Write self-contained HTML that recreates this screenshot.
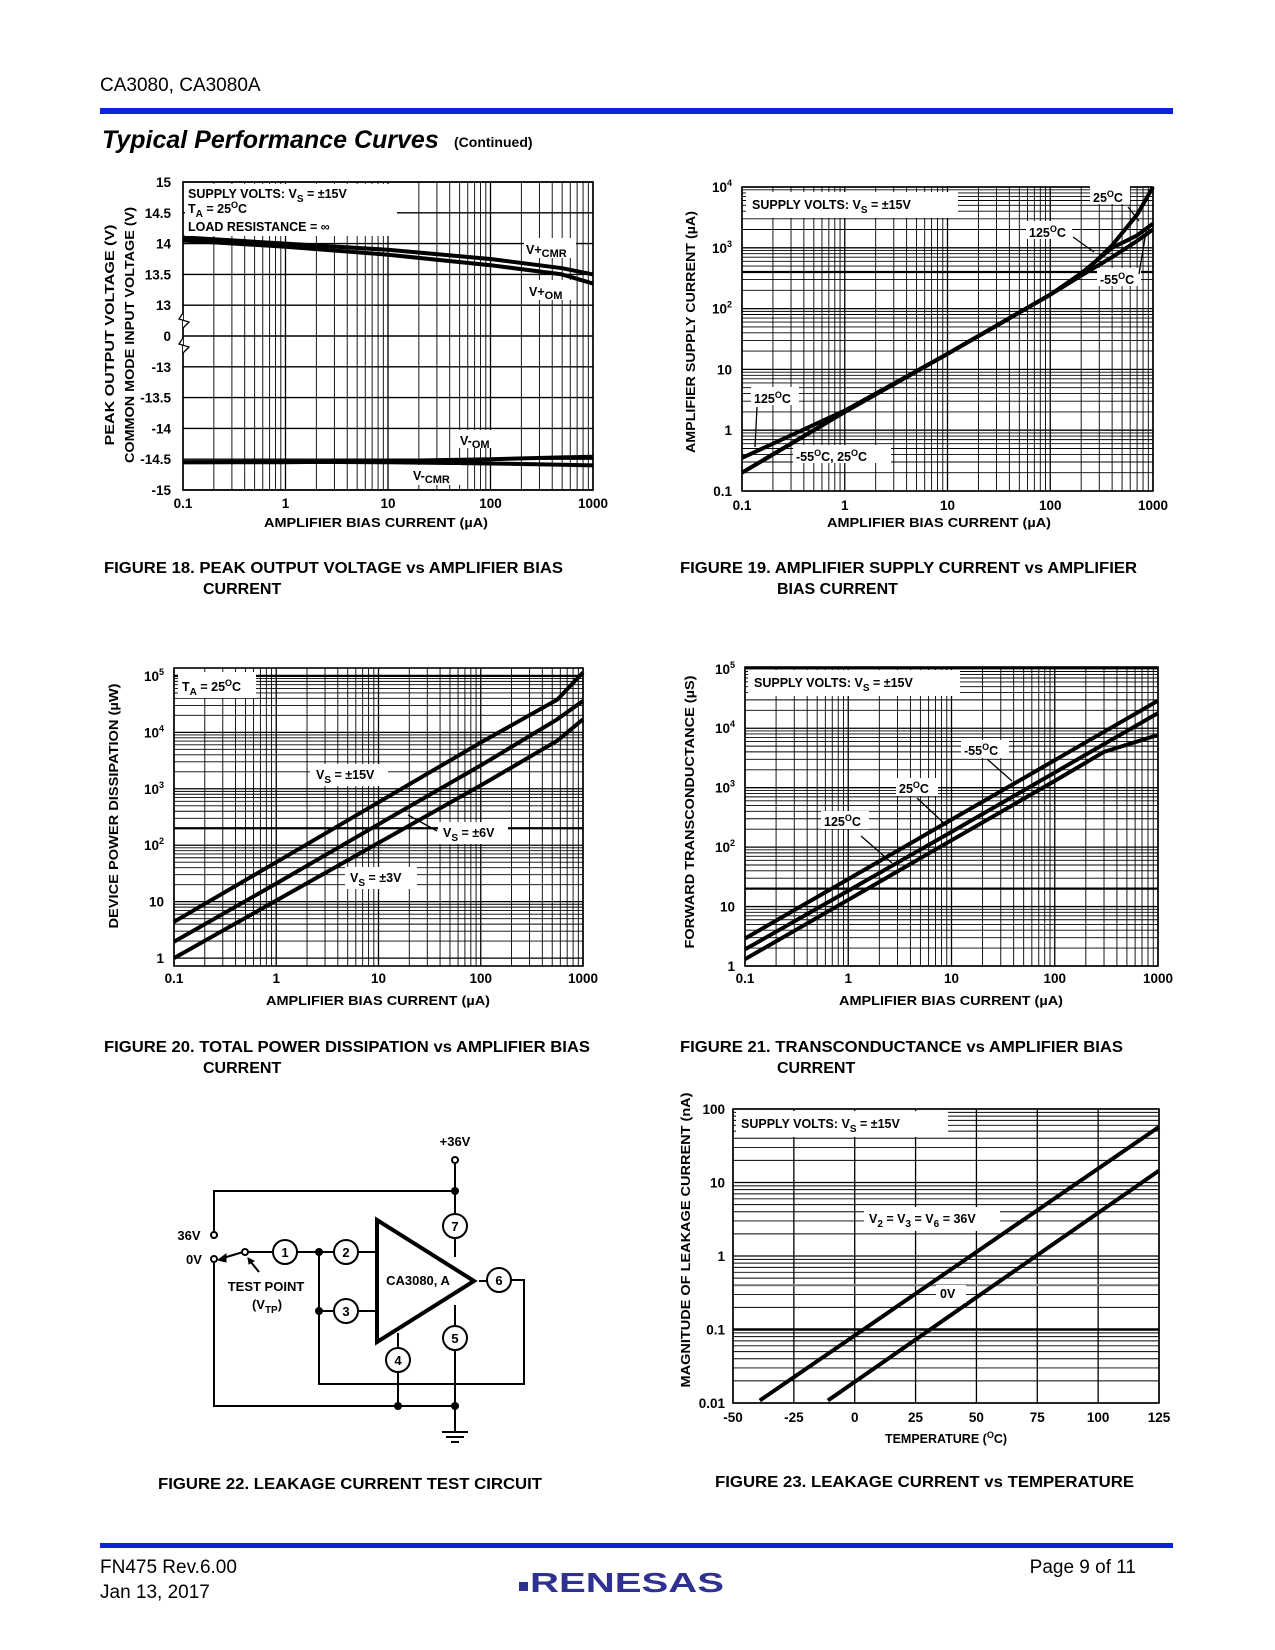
<!DOCTYPE html>
<html><head><meta charset="utf-8"><style>
html,body{margin:0;padding:0;background:#fff}
svg{display:block;font-family:"Liberation Sans",Arial,sans-serif}
.t{font-weight:bold;font-size:12.5px}
.cap{font-weight:bold;font-size:16px}
</style></head><body>
<svg id="page" width="1275" height="1650" viewBox="0 0 1275 1650" xmlns="http://www.w3.org/2000/svg">
<text x="100" y="91" font-size="19">CA3080, CA3080A</text>
<rect x="100" y="108" width="1073" height="6" fill="#0a22d8"/>
<text x="102" y="148" font-size="25" font-weight="bold" font-style="italic">Typical Performance Curves</text>
<text x="454" y="147" font-size="14" font-weight="bold">(Continued)</text>

<g id="charts"></g>

<!-- axis titles -->
<g class="t" font-size="14">
<text transform="translate(114,335) rotate(-90)" text-anchor="middle" textLength="221" lengthAdjust="spacingAndGlyphs">PEAK OUTPUT VOLTAGE (V)</text>
<text transform="translate(134,335) rotate(-90)" text-anchor="middle" textLength="256" lengthAdjust="spacingAndGlyphs">COMMON MODE INPUT VOLTAGE (V)</text>
<text x="376" y="527" text-anchor="middle" textLength="224" lengthAdjust="spacingAndGlyphs">AMPLIFIER BIAS CURRENT (µA)</text>
<text transform="translate(695,332) rotate(-90)" text-anchor="middle" textLength="242" lengthAdjust="spacingAndGlyphs">AMPLIFIER SUPPLY CURRENT (µA)</text>
<text x="939" y="527" text-anchor="middle" textLength="224" lengthAdjust="spacingAndGlyphs">AMPLIFIER BIAS CURRENT (µA)</text>
<text transform="translate(118,806) rotate(-90)" text-anchor="middle" textLength="245" lengthAdjust="spacingAndGlyphs">DEVICE POWER DISSIPATION (µW)</text>
<text x="378" y="1005" text-anchor="middle" textLength="224" lengthAdjust="spacingAndGlyphs">AMPLIFIER BIAS CURRENT (µA)</text>
<text transform="translate(694,812) rotate(-90)" text-anchor="middle" textLength="273" lengthAdjust="spacingAndGlyphs">FORWARD TRANSCONDUCTANCE (µS)</text>
<text x="951" y="1005" text-anchor="middle" textLength="224" lengthAdjust="spacingAndGlyphs">AMPLIFIER BIAS CURRENT (µA)</text>
<text transform="translate(690,1240) rotate(-90)" text-anchor="middle" textLength="295" lengthAdjust="spacingAndGlyphs">MAGNITUDE OF LEAKAGE CURRENT (nA)</text>
<text x="946" y="1443" text-anchor="middle">TEMPERATURE (<tspan font-size="9" dy="-5">O</tspan><tspan dy="5">C)</tspan></text>
</g>

<!-- annotations -->
<g class="t">
<rect x="185" y="184" width="212" height="52" fill="#fff"/>
<text x="188" y="198">SUPPLY VOLTS:  V<tspan font-size="10" dy="4">S</tspan><tspan dy="-4"> = ±15V</tspan></text>
<text x="188" y="213">T<tspan font-size="10" dy="4">A</tspan><tspan dy="-4"> =  25</tspan><tspan font-size="9" dy="-5">O</tspan><tspan dy="5">C</tspan></text>
<text x="188" y="231">LOAD RESISTANCE = ∞</text>
<rect x="524" y="238" width="52" height="20" fill="#fff"/>
<text x="526" y="254">V+<tspan font-size="11" dy="3">CMR</tspan></text>
<rect x="527" y="280" width="44" height="20" fill="#fff"/>
<text x="529" y="296">V+<tspan font-size="11" dy="3">OM</tspan></text>
<rect x="458" y="430" width="40" height="18" fill="#fff"/>
<text x="460" y="445">V-<tspan font-size="11" dy="3">OM</tspan></text>
<rect x="411" y="465" width="50" height="20" fill="#fff"/>
<text x="413" y="480">V-<tspan font-size="11" dy="3">CMR</tspan></text>

<rect x="746" y="192" width="212" height="26" fill="#fff"/>
<text x="752" y="209">SUPPLY VOLTS:  V<tspan font-size="10" dy="4">S</tspan><tspan dy="-4"> = ±15V</tspan></text>
<rect x="1090" y="186" width="40" height="18" fill="#fff"/>
<text x="1093" y="202">25<tspan font-size="9" dy="-5">O</tspan><tspan dy="5">C</tspan></text>
<rect x="1026" y="221" width="46" height="18" fill="#fff"/>
<text x="1029" y="237">125<tspan font-size="9" dy="-5">O</tspan><tspan dy="5">C</tspan></text>
<rect x="1097" y="268" width="44" height="18" fill="#fff"/>
<text x="1100" y="284">-55<tspan font-size="9" dy="-5">O</tspan><tspan dy="5">C</tspan></text>
<rect x="751" y="387" width="48" height="18" fill="#fff"/>
<text x="754" y="403">125<tspan font-size="9" dy="-5">O</tspan><tspan dy="5">C</tspan></text>
<rect x="793" y="445" width="98" height="18" fill="#fff"/>
<text x="796" y="461">-55<tspan font-size="9" dy="-5">O</tspan><tspan dy="5">C,  25</tspan><tspan font-size="9" dy="-5">O</tspan><tspan dy="5">C</tspan></text>
<g stroke="#000" stroke-width="1.3" fill="none">
<path d="M1128 207 L1139 221"/>
<path d="M1073 237 L1094 252"/>
<path d="M1139 274 L1147 226"/>
<path d="M757 407 L755 447"/>
</g>

<rect x="178" y="672" width="78" height="26" fill="#fff"/>
<text x="182" y="691">T<tspan font-size="10" dy="4">A</tspan><tspan dy="-4"> =  25</tspan><tspan font-size="9" dy="-5">O</tspan><tspan dy="5">C</tspan></text>
<rect x="310" y="764" width="78" height="22" fill="#fff"/>
<text x="316" y="779">V<tspan font-size="10" dy="4">S</tspan><tspan dy="-4"> = ±15V</tspan></text>
<rect x="438" y="822" width="70" height="22" fill="#fff"/>
<text x="443" y="837">V<tspan font-size="10" dy="4">S</tspan><tspan dy="-4"> = ±6V</tspan></text>
<path d="M437 831 L408 815" stroke="#000" stroke-width="1.3"/>
<rect x="345" y="867" width="72" height="22" fill="#fff"/>
<text x="350" y="882">V<tspan font-size="10" dy="4">S</tspan><tspan dy="-4"> = ±3V</tspan></text>

<rect x="748" y="670" width="212" height="26" fill="#fff"/>
<text x="754" y="687">SUPPLY VOLTS:  V<tspan font-size="10" dy="4">S</tspan><tspan dy="-4"> = ±15V</tspan></text>
<rect x="961" y="740" width="48" height="18" fill="#fff"/>
<text x="964" y="755">-55<tspan font-size="9" dy="-5">O</tspan><tspan dy="5">C</tspan></text>
<rect x="896" y="778" width="42" height="18" fill="#fff"/>
<text x="899" y="793">25<tspan font-size="9" dy="-5">O</tspan><tspan dy="5">C</tspan></text>
<rect x="821" y="811" width="48" height="18" fill="#fff"/>
<text x="824" y="826">125<tspan font-size="9" dy="-5">O</tspan><tspan dy="5">C</tspan></text>
<g stroke="#000" stroke-width="1.3">
<path d="M987 759 L1012 781"/>
<path d="M917 798 L947 826"/>
<path d="M861 836 L892 863"/>
</g>

<rect x="736" y="1111" width="212" height="26" fill="#fff"/>
<text x="741" y="1128">SUPPLY VOLTS:  V<tspan font-size="10" dy="4">S</tspan><tspan dy="-4"> = ±15V</tspan></text>
<rect x="864" y="1207" width="136" height="24" fill="#fff"/>
<text x="869" y="1223">V<tspan font-size="10" dy="4">2</tspan><tspan dy="-4"> = V</tspan><tspan font-size="10" dy="4">3</tspan><tspan dy="-4"> = V</tspan><tspan font-size="10" dy="4">6</tspan><tspan dy="-4"> = 36V</tspan></text>
<rect x="936" y="1285" width="30" height="18" fill="#fff"/>
<text x="940" y="1298">0V</text>
</g>

<!-- captions -->
<g class="cap">
<text x="104" y="573" textLength="459" lengthAdjust="spacingAndGlyphs">FIGURE 18.  PEAK OUTPUT VOLTAGE vs AMPLIFIER BIAS</text>
<text x="203" y="594">CURRENT</text>
<text x="680" y="573" textLength="457" lengthAdjust="spacingAndGlyphs">FIGURE 19.  AMPLIFIER SUPPLY CURRENT vs AMPLIFIER</text>
<text x="777" y="594">BIAS CURRENT</text>
<text x="104" y="1052" textLength="486" lengthAdjust="spacingAndGlyphs">FIGURE 20.  TOTAL POWER DISSIPATION vs AMPLIFIER BIAS</text>
<text x="203" y="1073">CURRENT</text>
<text x="680" y="1052" textLength="443" lengthAdjust="spacingAndGlyphs">FIGURE 21.  TRANSCONDUCTANCE vs AMPLIFIER BIAS</text>
<text x="777" y="1073">CURRENT</text>
<text x="158" y="1489" textLength="384" lengthAdjust="spacingAndGlyphs">FIGURE 22.  LEAKAGE CURRENT TEST CIRCUIT</text>
<text x="715" y="1487" textLength="419" lengthAdjust="spacingAndGlyphs">FIGURE 23.  LEAKAGE CURRENT vs TEMPERATURE</text>
</g>

<!-- circuit -->
<g stroke="#000" stroke-width="2" fill="none">
<path d="M455 1164 V1214 M455 1238 V1257 M455 1305 V1326 M455 1350 V1432 M214 1239 V1191 H455 M214 1263 V1406 H455 M247 1252 H273 M297 1252 H334 M358 1252 H377 M319 1252 V1384 H524 V1280 H511 M334 1311 H319 M358 1311 H377 M479 1281 H487 M398 1333 V1348 M398 1372 V1406"/>
<path d="M377 1220 L377 1342 L474 1281 Z" stroke-width="4"/>
<path d="M243 1252 L220 1259"/>
<path d="M218 1260 L226 1254 L226 1262 Z" fill="#000" stroke-width="1"/>
<path d="M259 1272 L250 1261"/>
<path d="M248 1258 L254 1261 L249 1264 Z" fill="#000" stroke-width="1"/>
<path d="M442 1432 H468 M446 1437 H464 M451 1442 H459" stroke-width="2"/>
<circle cx="455" cy="1160" r="3" fill="#fff"/>
<circle cx="214" cy="1235" r="3" fill="#fff"/>
<circle cx="214" cy="1259" r="3" fill="#fff"/>
<circle cx="245" cy="1252" r="3" fill="#fff"/>
<g fill="#000" stroke="none">
<circle cx="455" cy="1191" r="4"/><circle cx="319" cy="1252" r="4"/><circle cx="319" cy="1311" r="4"/><circle cx="398" cy="1406" r="4"/><circle cx="455" cy="1406" r="4"/>
</g>
<g fill="#fff">
<circle cx="285" cy="1252" r="12"/>
<circle cx="346" cy="1252" r="12"/>
<circle cx="346" cy="1311" r="12"/>
<circle cx="398" cy="1360" r="12"/>
<circle cx="455" cy="1338" r="12"/>
<circle cx="499" cy="1280" r="12"/>
<circle cx="455" cy="1226" r="12"/>
</g>
<g stroke="none" fill="#000" font-weight="bold" font-size="13" text-anchor="middle">
<text x="285" y="1257">1</text><text x="346" y="1257">2</text><text x="346" y="1316">3</text><text x="398" y="1365">4</text><text x="455" y="1343">5</text><text x="499" y="1285">6</text><text x="455" y="1231">7</text>
<text x="455" y="1146">+36V</text>
<text x="189" y="1240">36V</text>
<text x="194" y="1264">0V</text>
<text x="266" y="1291">TEST POINT</text>
<text x="267" y="1309">(V<tspan font-size="10" dy="4">TP</tspan><tspan dy="-4">)</tspan></text>
<text x="418" y="1285">CA3080, A</text>
</g>
</g>

<!-- footer -->
<rect x="100" y="1543" width="1073" height="5" fill="#0a22d8"/>
<text x="100" y="1573" font-size="19">FN475  Rev.6.00</text>
<text x="100" y="1598" font-size="19">Jan 13, 2017</text>
<text x="1136" y="1573" font-size="19" text-anchor="end">Page 9 of 11</text>
<g>
<rect x="519" y="1582" width="9" height="9" fill="#2e3192"/>
<text x="530" y="1592" font-size="28" font-weight="bold" fill="#2e3192" textLength="194" lengthAdjust="spacingAndGlyphs">RENESAS</text>
</g>
</svg>
<script>
// ---- Figure 18 data ----
const f18X = [0.1, 1, 10, 100, 500, 1000];
const f18VpCMR = [14.1, 14.0, 13.9, 13.75, 13.6, 13.5];
const f18VpOM = [14.05, 13.95, 13.82, 13.65, 13.5, 13.35];
const f18VmOM = [-14.55, -14.55, -14.53, -14.5, -14.47, -14.46];
const f18VmCMR = [-14.55, -14.54, -14.55, -14.57, -14.59, -14.6];
const f18YTicks = ['15','14.5','14','13.5','13','0','-13','-13.5','-14','-14.5','-15'];
const biasXTicks = ['0.1','1','10','100','1000'];
// ---- Figure 19 data ----
const f19X = [0.1, 1, 10, 100, 200, 400, 700, 1000];
const f19T25 = [0.2, 2, 18, 170, 350, 1100, 3500, 10000];
const f19T125 = [0.35, 2.1, 18, 170, 380, 1000, 1600, 2500];
const f19Tm55 = [0.2, 2, 18, 170, 350, 700, 1300, 2000];
const f19YTicks = ['0.1','1','10','10^2','10^3','10^4'];
// ---- Figure 20 data ----
const f20X = [0.1, 1, 10, 100, 560, 1000];
const f20Vs15 = [4.4, 50, 575, 6600, 38000, 115000];
const f20Vs6 = [1.95, 21, 235, 2600, 17000, 36000];
const f20Vs3 = [1.0, 10.5, 110, 1150, 7100, 17000];
const f20YTicks = ['1','10','10^2','10^3','10^4','10^5'];
// ---- Figure 21 data ----
const f21X = [0.1, 1, 10, 100, 300, 1000];
const f21Tm55 = [2.9, 29, 290, 2900, 8700, 29000];
const f21T25 = [1.9, 18.5, 180, 1800, 5400, 18000];
const f21T125 = [1.3, 13, 130, 1300, 4000, 7700];
const f21YTicks = ['1','10','10^2','10^3','10^4','10^5'];
// ---- Figure 23 data ----
const f23Temp36 = [-39, 125];
const f23Leak36 = [0.0108, 57];
const f23Temp0 = [-11, 125];
const f23Leak0 = [0.0108, 14.5];
const f23XTicks = ['-50','-25','0','25','50','75','100','125'];
const f23YTicks = ['0.01','0.1','1','10','100'];

const NS = 'http://www.w3.org/2000/svg';
const root = document.getElementById('charts');
function mk(tag, attrs, parent){const e=document.createElementNS(NS,tag);for(const k in attrs)e.setAttribute(k,attrs[k]);(parent||root).appendChild(e);return e;}
function logS(min,max,a,b){const l0=Math.log10(min),l1=Math.log10(max);return v=>a+(Math.log10(v)-l0)/(l1-l0)*(b-a);}
function linS(min,max,a,b){return v=>a+(v-min)/(max-min)*(b-a);}
function hline(y,x0,x1,w,nm,col){const e=mk('line',{x1:x0,x2:x1,y1:y,y2:y,stroke:col||'#000','stroke-width':w});

}
function vline(x,y0,y1,w,nm){const e=mk('line',{x1:x,x2:x,y1:y0,y2:y1,stroke:'#000','stroke-width':w});

}
function logGridX(sx,min,max,y0,y1,p){for(let d=Math.floor(Math.log10(min));d<Math.log10(max)+0.01;d++){for(let k=1;k<10;k++){const v=k*Math.pow(10,d);if(v<min*0.999||v>max*1.001)continue;vline(sx(v),y0,y1,k===1?1.3:0.9,p+'-x-grid');}}}
function logGridY(sy,min,max,x0,x1,p){for(let d=Math.floor(Math.log10(min));d<Math.log10(max)+0.01;d++){for(let k=1;k<10;k++){const v=k*Math.pow(10,d);if(v<min*0.999||v>max*1.001)continue;hline(sy(v),x0,x1,k===1?1.3:0.9,p+'-y-grid');}}}
function frame(x0,y0,x1,y1,nm){const e=mk('rect',{x:x0,y:y0,width:x1-x0,height:y1-y0,fill:'none',stroke:'#000','stroke-width':1.6});

}
function curve(xs,ys,sx,sy,nm){let d='';for(let i=0;i<xs.length;i++)d+=(i?'L':'M')+sx(xs[i]).toFixed(1)+' '+sy(ys[i]).toFixed(1);
const e=mk('path',{d:d,fill:'none',stroke:'#000','stroke-width':4,'stroke-linejoin':'round'});

}
function label(txt,x,y,anchor,nm){const e=mk('text',{x:x,y:y,'text-anchor':anchor,'font-size':13.5,'font-weight':'bold'});


if(txt.indexOf('^')>=0){const p=txt.split('^');e.appendChild(document.createTextNode(p[0]));const s=mk('tspan',{'font-size':9,dy:-6},e);s.textContent=p[1];}else e.textContent=txt;}
function tickVal(t){if(t.indexOf('^')>=0){const p=t.split('^');return Math.pow(+p[0],+p[1]);}return parseFloat(t);}
function xLabels(ticks,sx,y,p){ticks.forEach(t=>label(t,sx(tickVal(t)),y,'middle',p+'-x-tick-label'));}
function yLabels(ticks,sy,x,p){ticks.forEach(t=>label(t,x,sy(tickVal(t))+5,'end',p+'-y-tick-label'));}

// Figure 18
(function(){const x0=183,x1=593,y0=182,y1=490;const sx=logS(0.1,1000,x0,x1);
const step=(y1-y0)/10;
const sy=v=>{let idx=v>=13?(15-v)/0.5:(v<=-13?6+(-13-v)/0.5:5);return y0+idx*step;};
logGridX(sx,0.1,1000,y0,y1,'fig18');
f18YTicks.forEach((t,i)=>hline(y0+i*step,x0,x1,1.4,'fig18-y-grid'));
frame(x0,y0,x1,y1,'fig18-plot-frame');
f18YTicks.forEach((t,i)=>label(t,x0-12,y0+i*step+5,'end','fig18-y-tick-label'));
xLabels(biasXTicks,sx,508,'fig18');
curve(f18X,f18VpCMR,sx,sy,'fig18-vpcmr-curve');
curve(f18X,f18VpOM,sx,sy,'fig18-vpom-curve');
curve(f18X,f18VmOM,sx,sy,'fig18-vmom-curve');
curve(f18X,f18VmCMR,sx,sy,'fig18-vmcmr-curve');
const z=mk('path',{d:'M183 313 L179 319 L189 322 L183 328 M183 338 L179 344 L189 347 L183 353',fill:'#fff',stroke:'#000','stroke-width':1.3});

})();

// Figure 19
(function(){const x0=742,x1=1153,y0=187,y1=491;const sx=logS(0.1,1000,x0,x1),sy=logS(0.1,10000,y1,y0);
logGridX(sx,0.1,1000,y0,y1,'fig19');logGridY(sy,0.1,10000,x0,x1,'fig19');
hline(sy(400),x0,x1,2.2,'fig19-ref-line');
frame(x0,y0,x1,y1,'fig19-plot-frame');
yLabels(f19YTicks,sy,x0-10,'fig19');xLabels(biasXTicks,sx,510,'fig19');
curve(f19X,f19Tm55,sx,sy,'fig19-m55c-curve');
curve(f19X,f19T125,sx,sy,'fig19-125c-curve');
curve(f19X,f19T25,sx,sy,'fig19-25c-curve');})();

// Figure 20
(function(){const x0=174,x1=583,y0=668,y1=966;const sx=logS(0.1,1000,x0,x1),sy=logS(Math.pow(10,-0.14),Math.pow(10,5.14),y1,y0);
logGridX(sx,0.1,1000,y0,y1,'fig20');logGridY(sy,1,100000,x0,x1,'fig20');
hline(sy(200),x0,x1,2.2,'fig20-ref-line');hline(sy(100000),x0,x1,2.2,'fig20-ref-line-top');
frame(x0,y0,x1,y1,'fig20-plot-frame');
yLabels(f20YTicks,sy,x0-10,'fig20');xLabels(biasXTicks,sx,983,'fig20');
curve(f20X,f20Vs15,sx,sy,'fig20-vs15-curve');
curve(f20X,f20Vs6,sx,sy,'fig20-vs6-curve');
curve(f20X,f20Vs3,sx,sy,'fig20-vs3-curve');})();

// Figure 21
(function(){const x0=745,x1=1158,y0=667,y1=966;const sx=logS(0.1,1000,x0,x1),sy=logS(1,Math.pow(10,5.03),y1,y0);
logGridX(sx,0.1,1000,y0,y1,'fig21');logGridY(sy,1,100000,x0,x1,'fig21');
hline(sy(20),x0,x1,2.2,'fig21-ref-line');hline(y0+1,x0,x1,2.5,'fig21-ref-line-top');
frame(x0,y0,x1,y1,'fig21-plot-frame');
yLabels(f21YTicks,sy,x0-10,'fig21');xLabels(biasXTicks,sx,983,'fig21');
curve(f21X,f21Tm55,sx,sy,'fig21-m55c-curve');
curve(f21X,f21T25,sx,sy,'fig21-25c-curve');
curve(f21X,f21T125,sx,sy,'fig21-125c-curve');})();

// Figure 23
(function(){const x0=733,x1=1159,y0=1109,y1=1403;const sx=linS(-50,125,x0,x1),sy=logS(0.01,100,y1,y0);
f23XTicks.forEach(t=>vline(sx(+t),y0,y1,1.3,'fig23-x-grid'));
logGridY(sy,0.01,100,x0,x1,'fig23');
hline(sy(0.1),x0,x1,2.5,'fig23-ref-line');hline(sy(0.4),x0,x1,2,'fig23-ref-line-gray','#777');
frame(x0,y0,x1,y1,'fig23-plot-frame');
yLabels(f23YTicks,sy,x0-8,'fig23');
f23XTicks.forEach(t=>label(t,sx(+t),1422,'middle','fig23-x-tick-label'));
curve(f23Temp36,f23Leak36,sx,sy,'fig23-36v-curve');
curve(f23Temp0,f23Leak0,sx,sy,'fig23-0v-curve');})();
</script>
</body></html>
